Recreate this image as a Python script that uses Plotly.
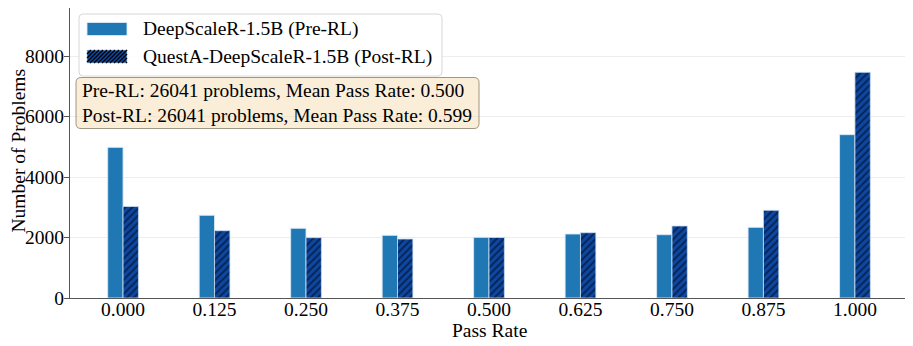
import plotly.graph_objects as go

pass_rate = [0.0, 0.125, 0.25, 0.375, 0.5, 0.625, 0.75, 0.875, 1.0]
tick_labels = ["0.000", "0.125", "0.250", "0.375", "0.500", "0.625", "0.750", "0.875", "1.000"]
pre_rl = [4980, 2734, 2304, 2072, 2006, 2116, 2093, 2336, 5400]
post_rl = [3025, 2225, 1994, 1950, 2000, 2159, 2380, 2898, 7460]
names = ["DeepScaleR-1.5B (Pre-RL)", "QuestA-DeepScaleR-1.5B (Post-RL)"]
stats = "Pre-RL: 26041 problems, Mean Pass Rate: 0.500<br>Post-RL: 26041 problems, Mean Pass Rate: 0.599"

font = "Liberation Serif, Times New Roman, serif"
fs = 19.5
w = 0.021
pre_color = "#1f77b4"
post_color = "#0d47a1"

# the page body adds an 8px offset, so the figure is a bit smaller than the window
OFF = 8
W, H = 913 - OFF, 346 - OFF
L, R, T, B = 62, 5, 0, 48
PW, PH = W - L - R, H - T - B


def px(x):
    # page pixel x -> paper
    return (x - OFF - L) / PW


def py(y):
    # page pixel y -> paper
    return (H - B - (y - OFF)) / PH


def rounded_box(x0, y0, x1, y1, r=4):
    # rounded rectangle path in paper coords, given page pixels
    pts = [
        f"M {px(x0 + r)},{py(y0)}", f"L {px(x1 - r)},{py(y0)}",
        f"Q {px(x1)},{py(y0)} {px(x1)},{py(y0 + r)}", f"L {px(x1)},{py(y1 - r)}",
        f"Q {px(x1)},{py(y1)} {px(x1 - r)},{py(y1)}", f"L {px(x0 + r)},{py(y1)}",
        f"Q {px(x0)},{py(y1)} {px(x0)},{py(y1 - r)}", f"L {px(x0)},{py(y0 + r)}",
        f"Q {px(x0)},{py(y0)} {px(x0 + r)},{py(y0)}", "Z",
    ]
    return " ".join(pts)


fig = go.Figure()
fig.add_trace(go.Bar(
    x=pass_rate, y=pre_rl, name=names[0], showlegend=False,
    width=w, offset=-w,
    marker=dict(color=pre_color, line=dict(color="rgba(215,232,245,0.9)", width=1)),
))
fig.add_trace(go.Bar(
    x=pass_rate, y=post_rl, name=names[1], showlegend=False,
    width=w, offset=0,
    marker=dict(color=post_color, line=dict(color="rgba(200,220,240,0.8)", width=1),
                pattern=dict(shape="/", fgcolor="black", bgcolor=post_color,
                             size=5, solidity=0.35)),
))

fig.update_layout(
    width=W, height=H,
    margin=dict(l=L, r=R, t=T, b=B),
    plot_bgcolor="white", paper_bgcolor="white",
    font=dict(family=font, size=fs, color="black"),
    barmode="overlay",
    xaxis=dict(
        range=[-0.0725, 1.0725], tickvals=pass_rate, ticktext=tick_labels,
        showgrid=False, showline=True, linecolor="#555555", linewidth=1, mirror=True,
        ticks="", ticklabelstandoff=-6, zeroline=False, automargin=False,
    ),
    yaxis=dict(
        range=[0, 9587], tickvals=[0, 2000, 4000, 6000, 8000],
        showgrid=True, gridcolor="rgba(0,0,0,0.07)", gridwidth=1,
        showline=True, linecolor="#555555", linewidth=1, mirror=True,
        ticks="outside", ticklen=5, tickcolor="#555555", ticklabelstandoff=-4,
        zeroline=False, automargin=False,
    ),
)

# axis titles
fig.add_annotation(xref="paper", yref="paper", x=px(489), y=py(330),
                   xanchor="center", yanchor="middle", text="Pass Rate",
                   showarrow=False, font=dict(size=fs, family=font))
fig.add_annotation(xref="paper", yref="paper", x=px(17.5), y=py(151),
                   xanchor="center", yanchor="middle", text="Number of Problems",
                   textangle=-90, showarrow=False, borderpad=0,
                   font=dict(size=fs, family=font))

# legend box
fig.add_shape(type="path", xref="paper", yref="paper", path=rounded_box(79, 14, 442, 76),
              fillcolor="rgba(255,255,255,0.85)", line=dict(color="#d8d8d8", width=1))
# swatches
sw_x0, sw_x1 = 87, 127
fig.add_shape(type="rect", xref="paper", yref="paper",
              x0=px(sw_x0), x1=px(sw_x1), y0=py(35.5), y1=py(22.5),
              fillcolor=pre_color, line=dict(color="rgba(215,232,245,0.9)", width=1))
fig.add_shape(type="rect", xref="paper", yref="paper",
              x0=px(sw_x0), x1=px(sw_x1), y0=py(63), y1=py(50),
              fillcolor=post_color, line=dict(color="rgba(200,220,240,0.8)", width=1))
# hatch lines in the second swatch
ytop, ybot = 50, 63
step = 4
c = sw_x0 - (ybot - ytop)
while c < sw_x1:
    xa, ya = c, ybot
    xb, yb = c + (ybot - ytop), ytop
    if xa < sw_x0:
        ya = ybot - (sw_x0 - c)
        xa = sw_x0
    if xb > sw_x1:
        yb = ybot - (sw_x1 - c)
        xb = sw_x1
    if xb > xa:
        fig.add_shape(type="line", xref="paper", yref="paper",
                      x0=px(xa), y0=py(ya), x1=px(xb), y1=py(yb),
                      line=dict(color="black", width=1.2))
    c += step
for name, yc in zip(names, [29, 57]):
    fig.add_annotation(xref="paper", yref="paper", x=px(141), y=py(yc),
                       xanchor="left", yanchor="middle", text=name, showarrow=False,
                       font=dict(size=fs, family=font))

# stats box
fig.add_shape(type="path", xref="paper", yref="paper", path=rounded_box(76, 77.5, 479, 128.5, 5),
              fillcolor="rgba(245,222,179,0.5)", line=dict(color="rgba(120,110,90,0.7)", width=1))
fig.add_annotation(
    xref="paper", yref="paper", x=px(80), y=py(103), xanchor="left", yanchor="middle",
    text=stats, align="left", showarrow=False, font=dict(size=fs, family=font),
)

fig.write_html("out.html")
